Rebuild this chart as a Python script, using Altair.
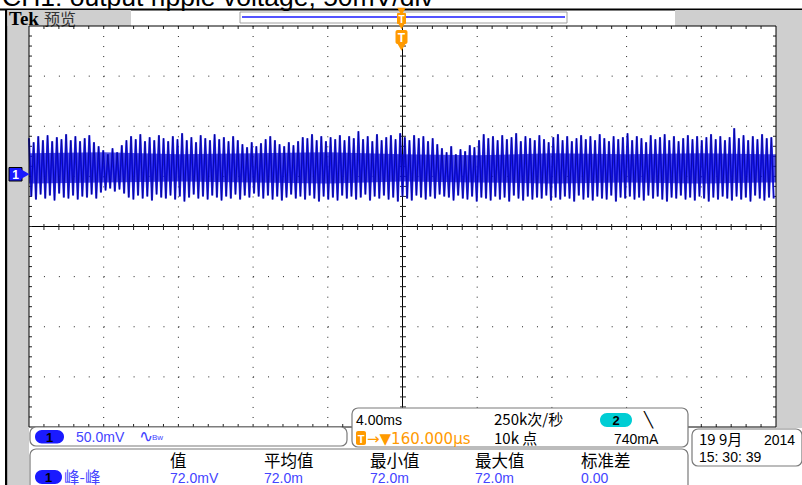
import altair as alt
import pandas as pd

# ---------------- data ----------------
SCREEN_MS = 40.0            # 10 div x 4.00 ms/div
HALF_MV = 200.0             # 4 div x 50 mV/div above / below centre

# ripple spikes (mV relative to screen centre)
ripple_tops = [
    88, 84, 90, 86, 91, 85, 89, 87, 92, 86,
    90, 85, 88, 91, 84, 80, 76, 72, 78, 74,
    81, 86, 90, 87, 92, 85, 89, 86, 91, 88,
    85, 90, 87, 93, 86, 89, 84, 91, 88, 86,
    92, 87, 89, 85, 90, 86, 82, 79, 84, 80,
    83, 87, 90, 86, 82, 80, 84, 81, 85, 89,
    88, 92, 86, 90, 85, 89, 87, 91, 86, 90,
    88, 95, 87, 90, 85, 92, 86, 89, 91, 87,
    93, 89, 86, 91, 88, 90, 85, 88, 82, 78,
    74, 80, 72, 77, 75, 81, 79, 86, 92, 88,
    90, 86, 91, 87, 89, 93, 85, 90, 88, 86,
    91, 87, 84, 89, 92, 86, 90, 85, 88, 91,
    87, 90, 86, 92, 88, 85, 90, 87, 89, 93,
    86, 90, 88, 84, 91, 87, 89, 92, 86, 90,
    85, 88, 91, 87, 90, 86, 89, 92, 87, 90,
    86, 89, 98, 88, 91, 86, 90, 87, 92, 88,
    89,
]
ripple_bottoms = [
    30, 27, 32, 28, 31, 26, 33, 29, 28, 31,
    27, 30, 29, 32, 28, 34, 36, 38, 35, 37,
    33, 29, 27, 31, 28, 30, 26, 32, 29, 28,
    31, 27, 30, 25, 29, 32, 28, 30, 27, 31,
    29, 26, 30, 28, 32, 27, 31, 29, 33, 30,
    28, 31, 27, 30, 26, 29, 32, 28, 30, 27,
    31, 28, 25, 30, 27, 29, 26, 31, 28, 30,
    27, 29, 32, 26, 30, 28, 31, 27, 29, 25,
    30, 28, 26, 31, 29, 27, 30, 28, 32, 30,
    29, 26, 31, 28, 27, 30, 25, 29, 28, 26,
    30, 27, 29, 25, 31, 28, 26, 30, 27, 29,
    28, 31, 26, 29, 27, 30, 28, 25, 31, 27,
    29, 26, 30, 28, 27, 31, 25, 29, 28, 30,
    27, 29, 26, 31, 28, 30, 27, 25, 29, 28,
    31, 27, 29, 26, 30, 28, 25, 29, 27, 30,
    28, 26, 30, 27, 29, 25, 31, 28, 26, 29,
    28,
]
# dense core of the trace
band_time = [0, 4, 8, 12, 16, 20, 24, 28, 32, 36, 40]
band_hi = [73, 74, 72, 73, 74, 72, 71, 73, 72, 73, 72]
band_lo = [43, 44, 45, 44, 43, 45, 44, 43, 44, 43, 44]

div_time = [0, 4, 8, 12, 16, 20, 24, 28, 32, 36, 40]
div_mv = [-200, -150, -100, -50, 0, 50, 100, 150, 200]

title_text = "CH1: output ripple voltage, 50mV/div"
measure_headers = ["值", "平均值", "最小值", "最大值", "标准差"]
measure_values = ["72.0mV", "72.0m", "72.0m", "72.0m", "0.00"]

# ---------------- tables ----------------
n = len(ripple_tops)
dt = SCREEN_MS / n
wave_rows = []
for i, (hi, lo) in enumerate(zip(ripple_tops, ripple_bottoms)):
    wave_rows.append({"t": i * dt, "v": hi, "o": 2 * i})
    wave_rows.append({"t": i * dt + dt / 2, "v": lo, "o": 2 * i + 1})
wave = pd.DataFrame(wave_rows)
band = pd.DataFrame({"t": band_time, "hi": band_hi, "lo": band_lo})
vgrid = pd.DataFrame({"t": [t for t in div_time if t not in (0, 20, 40)]})
hgrid = pd.DataFrame({"v": [v for v in div_mv if v not in (-200, 0, 200)]})
minor_t = pd.DataFrame({"t": [k * 0.8 for k in range(1, 50)]})
minor_v = pd.DataFrame({"v": [-200 + k * 10 for k in range(1, 40)]})
one = pd.DataFrame({"k": [0]})

L, R, T, B = 29, 776, 26, 427
XS = alt.Scale(domain=[0, SCREEN_MS], range=[L, R], nice=False, zero=False)
YS = alt.Scale(domain=[-HALF_MV, HALF_MV], range=[B, T], nice=False, zero=False)
X = lambda f: alt.X(f, type="quantitative", scale=XS, axis=None)
Y = lambda f: alt.Y(f, type="quantitative", scale=YS, axis=None)

GRAY = "#cfcfcf"
BLUE_TXT = "#4444ff"
ORANGE = "#ff9a00"
LAT = "Liberation Sans"
CJK = "Noto Sans CJK SC"

layers = []


def rect(x1, x2, y1, y2, fill, stroke=None, sw=1.0, r=0):
    kw = dict(fill=fill, cornerRadius=r)
    if stroke:
        kw.update(stroke=stroke, strokeWidth=sw)
    layers.append(alt.Chart(one).mark_rect(**kw).encode(
        x=alt.value(x1), x2=alt.value(x2), y=alt.value(y1), y2=alt.value(y2)))


def text(s, x, y, size=14, color="black", font=LAT, weight="normal", align="left"):
    layers.append(alt.Chart(one).mark_text(
        text=s, fontSize=size, color=color, font=font, fontWeight=weight,
        align=align, baseline="alphabetic").encode(x=alt.value(x), y=alt.value(y)))


def point(x, y, shape, size, fill):
    layers.append(alt.Chart(one).mark_point(
        shape=shape, size=size, fill=fill, filled=True, stroke=fill, opacity=1).encode(
        x=alt.value(x), y=alt.value(y)))


# ---------------- frame / background ----------------
rect(0, 802, 0, 485, "white")
text(title_text, 2, 6, size=26.5, font=LAT)
rect(0, 802, 8.5, 10.5, "black")
rect(5, 7.5, 10, 485, "black")
rect(7.5, L, 10, 485, GRAY)
rect(7.5, 131, 10, T, GRAY)
rect(675, 802, 10, T, GRAY)
rect(R, 802, 10, B + 1, GRAY)
# record bar
rect(240, 567, 12, 23, "white", stroke="#a0a0a0", sw=1)
layers.append(alt.Chart(one).mark_rule(color="#1a1aff", strokeWidth=1.5).encode(
    x=alt.value(242), x2=alt.value(565), y=alt.value(17)))
text("Tek", 9, 25, size=19, font="Liberation Serif", weight="bold")
text("预览", 44, 25, size=16, color="#333333", font=CJK)

# ---------------- graticule ----------------
layers.append(alt.Chart(vgrid).mark_rule(color="#222", strokeWidth=1, strokeDash=[1, 9.025]).encode(
    x=X("t"), y=alt.value(T), y2=alt.value(B)))
layers.append(alt.Chart(hgrid).mark_rule(color="#222", strokeWidth=1, strokeDash=[1, 13.94]).encode(
    y=Y("v"), x=alt.value(L), x2=alt.value(R)))
layers.append(alt.Chart(pd.DataFrame({"t": [20]})).mark_rule(color="black", strokeWidth=1).encode(
    x=X("t"), y=alt.value(T), y2=alt.value(B)))
layers.append(alt.Chart(pd.DataFrame({"v": [0]})).mark_rule(color="black", strokeWidth=1).encode(
    y=Y("v"), x=alt.value(L), x2=alt.value(R)))
# minor ticks on centre lines and edges
layers.append(alt.Chart(minor_t).mark_rule(color="#222").encode(
    x=X("t"), y=alt.value(224), y2=alt.value(230)))
layers.append(alt.Chart(minor_v).mark_rule(color="#222").encode(
    y=Y("v"), x=alt.value(400), x2=alt.value(406)))
layers.append(alt.Chart(minor_t).mark_rule(color="#222").encode(
    x=X("t"), y=alt.value(T), y2=alt.value(T + 3)))
layers.append(alt.Chart(minor_t).mark_rule(color="#222").encode(
    x=X("t"), y=alt.value(B - 3), y2=alt.value(B)))
layers.append(alt.Chart(minor_v).mark_rule(color="#222").encode(
    y=Y("v"), x=alt.value(L), x2=alt.value(L + 3)))
layers.append(alt.Chart(minor_v).mark_rule(color="#222").encode(
    y=Y("v"), x=alt.value(R - 3), x2=alt.value(R)))

# ---------------- trace ----------------
layers.append(alt.Chart(band).mark_area(color="#0808d8", opacity=0.7).encode(
    x=X("t"), y=Y("hi"), y2="lo"))
layers.append(alt.Chart(wave).mark_line(color="#1010ff", strokeWidth=2.0, opacity=0.9).encode(
    x=X("t"), y=Y("v"), order="o:Q"))
layers.append(alt.Chart(wave).mark_line(color="#00006e", strokeWidth=0.8, opacity=0.75).encode(
    x=X("t"), y=Y("v"), order="o:Q"))

# plot border
rect(L, R, T, B, "transparent", stroke="black", sw=1)

# ---------------- markers ----------------
rect(9, 22, 167.5, 181, "#1a1aff", stroke="black", sw=1)
point(24, 174.2, "triangle-right", 60, "#1a1aff")
text("1", 15.5, 179, size=12, color="white", weight="bold", align="center")
# trigger markers
rect(395.5, 407.5, 30, 44, ORANGE, r=2)
point(401.5, 46, "triangle-down", 40, ORANGE)
text("T", 401.5, 42, size=12, color="white", weight="bold", align="center")
rect(397, 406, 13, 24, ORANGE, r=1)
point(401.5, 25, "triangle-down", 25, ORANGE)
point(401.5, 11, "triangle-down", 25, ORANGE)
text("T", 401.5, 22.5, size=10, color="white", weight="bold", align="center")

# ---------------- readout boxes ----------------
rect(30, 347, B, 446, "white", stroke="#7a7a7a", sw=1.2, r=6)
rect(35, 64, 430, 443.5, "#1a1aff", r=7)
text("1", 49.5, 441.5, size=13, color="black", weight="bold", align="center")
text("50.0mV", 76, 442, size=14, color=BLUE_TXT)
text("∿", 139, 442, size=17, color=BLUE_TXT, font="DejaVu Sans")
text("Bw", 152, 440, size=8, color=BLUE_TXT)

rect(352, 688, 408, 447, "white", stroke="#7a7a7a", sw=1.2, r=6)
text("4.00ms", 356, 425, size=14)
text("250k次/秒", 494, 425, size=15, font=CJK)
rect(600, 632, 413, 427, "#00cdd4", r=7)
text("2", 616, 425, size=13, weight="bold", align="center")
text("╲", 644, 425, size=15, font="DejaVu Sans")
rect(356, 366, 431, 445, ORANGE, r=2)
text("T", 361, 443, size=11, color="white", weight="bold", align="center")
text("→▼160.000µs", 367, 444, size=15, color=ORANGE, font="DejaVu Sans")
text("10k 点", 494, 444, size=15, font=CJK)
text("740mA", 614, 444, size=14)

rect(30, 688, 449, 495, "white", stroke="#7a7a7a", sw=1.2, r=6)
hx = [170, 264, 370, 475, 581]
for s, x in zip(measure_headers, hx):
    text(s, x, 467, size=16.5, font=CJK)
for s, x in zip(measure_values, hx):
    text(s, x, 483, size=14, color=BLUE_TXT)
rect(35, 62, 470, 484, "#1a1aff", r=7)
text("1", 48.5, 482, size=13, color="black", weight="bold", align="center")
text("峰-峰", 64, 483, size=15.5, color=BLUE_TXT, font=CJK)

rect(692, 802, 429, 466, "white", stroke="#7a7a7a", sw=1.2, r=6)
text("19 9月", 699, 445, size=15, font=CJK)
text("2014", 764, 445, size=14)
text("15: 30: 39", 699, 462, size=14)

chart = alt.layer(*layers).properties(
    width=802, height=485, padding=0, autosize=alt.AutoSizeParams(type="none"),
    background="white",
).configure_view(stroke=None)

chart.save("out.html", embed_options={"renderer": "svg", "actions": False})
